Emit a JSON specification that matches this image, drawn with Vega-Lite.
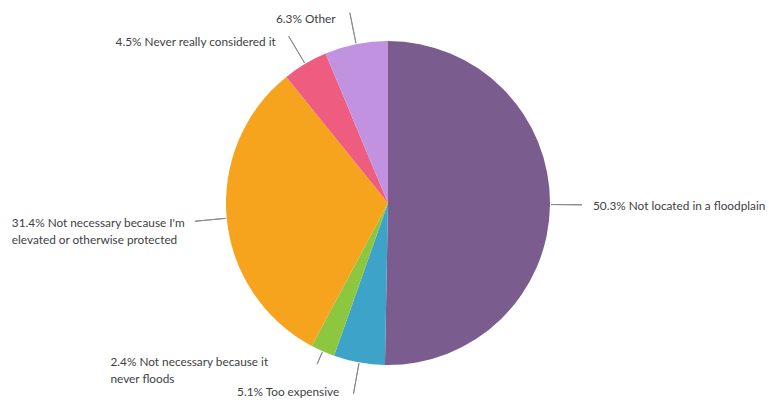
{
  "$schema": "https://vega.github.io/schema/vega-lite/v6.json",
  "width": 762,
  "height": 400,
  "autosize": {"type": "none"},
  "padding": {"left": 7, "top": 3, "right": 0, "bottom": 0},
  "background": "white",
  "view": {"stroke": null},
  "data": {
    "values": [
      {"order": 1, "category": "Not located in a floodplain", "pct": 50.3, "label": "50.3% Not located in a floodplain"},
      {"order": 2, "category": "Too expensive", "pct": 5.1, "label": "5.1% Too expensive"},
      {"order": 3, "category": "Not necessary because it never floods", "pct": 2.4, "label": "2.4% Not necessary because it\nnever floods"},
      {"order": 4, "category": "Not necessary because I'm elevated or otherwise protected", "pct": 31.4, "label": "31.4% Not necessary because I'm\nelevated or otherwise protected"},
      {"order": 5, "category": "Never really considered it", "pct": 4.5, "label": "4.5% Never really considered it"},
      {"order": 6, "category": "Other", "pct": 6.3, "label": "6.3% Other"}
    ]
  },
  "transform": [
    {"window": [{"op": "sum", "field": "pct", "as": "cum"}], "sort": [{"field": "order"}], "frame": [null, 0]},
    {"calculate": "datum.cum - datum.pct / 2", "as": "mid"}
  ],
  "layer": [
    {
      "mark": {"type": "arc", "radius": 162},
      "encoding": {
        "theta": {"field": "pct", "type": "quantitative", "stack": true, "scale": {"domain": [0, 100]}},
        "order": {"field": "order", "type": "quantitative"},
        "color": {
          "field": "category",
          "type": "nominal",
          "scale": {
            "domain": ["Not located in a floodplain", "Too expensive", "Not necessary because it never floods", "Not necessary because I'm elevated or otherwise protected", "Never really considered it", "Other"],
            "range": ["#7b5c8f", "#3ea3c9", "#8dc63f", "#f6a31e", "#ee5c80", "#c192df"]
          },
          "legend": null
        }
      }
    },
    {
      "transform": [{"filter": "datum.order != 3"}],
      "mark": {"type": "arc", "radius": 194, "radius2": 163, "filled": false, "stroke": "#8a8a8a", "strokeWidth": 1},
      "encoding": {
        "theta": {"field": "mid", "type": "quantitative", "stack": null, "scale": {"domain": [0, 100]}},
        "theta2": {"field": "mid"}
      }
    },
    {
      "transform": [{"filter": "datum.order == 3"}],
      "mark": {"type": "arc", "radius": 176, "radius2": 163, "filled": false, "stroke": "#8a8a8a", "strokeWidth": 1},
      "encoding": {
        "theta": {"field": "mid", "type": "quantitative", "stack": null, "scale": {"domain": [0, 100]}},
        "theta2": {"field": "mid"}
      }
    },
    {
      "transform": [{"filter": "datum.mid < 50"}],
      "mark": {"type": "text", "radius": 190, "align": "left", "baseline": "middle", "dx": 15, "dy": 1, "font": "Lato", "fontSize": 11.8, "fill": "#3e3e44"},
      "encoding": {
        "theta": {"field": "mid", "type": "quantitative", "stack": null, "scale": {"domain": [0, 100]}},
        "text": {"field": "label"}
      }
    },
    {
      "transform": [{"filter": "datum.mid >= 50 && datum.order != 3 && datum.order != 4"}],
      "mark": {"type": "text", "radius": 190, "align": "right", "baseline": "middle", "dx": -15, "dy": 2, "font": "Lato", "fontSize": 11.8, "fill": "#3e3e44"},
      "encoding": {
        "theta": {"field": "mid", "type": "quantitative", "stack": null, "scale": {"domain": [0, 100]}},
        "text": {"field": "label"}
      }
    },
    {
      "transform": [{"filter": "datum.order == 4"}],
      "mark": {"type": "text", "radius": 190, "align": "left", "baseline": "top", "dx": -187, "dy": -3, "lineBreak": "\n", "lineHeight": 17, "font": "Lato", "fontSize": 11.8, "fill": "#3e3e44"},
      "encoding": {
        "theta": {"field": "mid", "type": "quantitative", "stack": null, "scale": {"domain": [0, 100]}},
        "text": {"field": "label"}
      }
    },
    {
      "transform": [{"filter": "datum.order == 3"}],
      "mark": {"type": "text", "radius": 175, "align": "left", "baseline": "top", "dx": -207, "dy": -6, "lineBreak": "\n", "lineHeight": 17, "font": "Lato", "fontSize": 11.8, "fill": "#3e3e44"},
      "encoding": {
        "theta": {"field": "mid", "type": "quantitative", "stack": null, "scale": {"domain": [0, 100]}},
        "text": {"field": "label"}
      }
    }
  ]
}
